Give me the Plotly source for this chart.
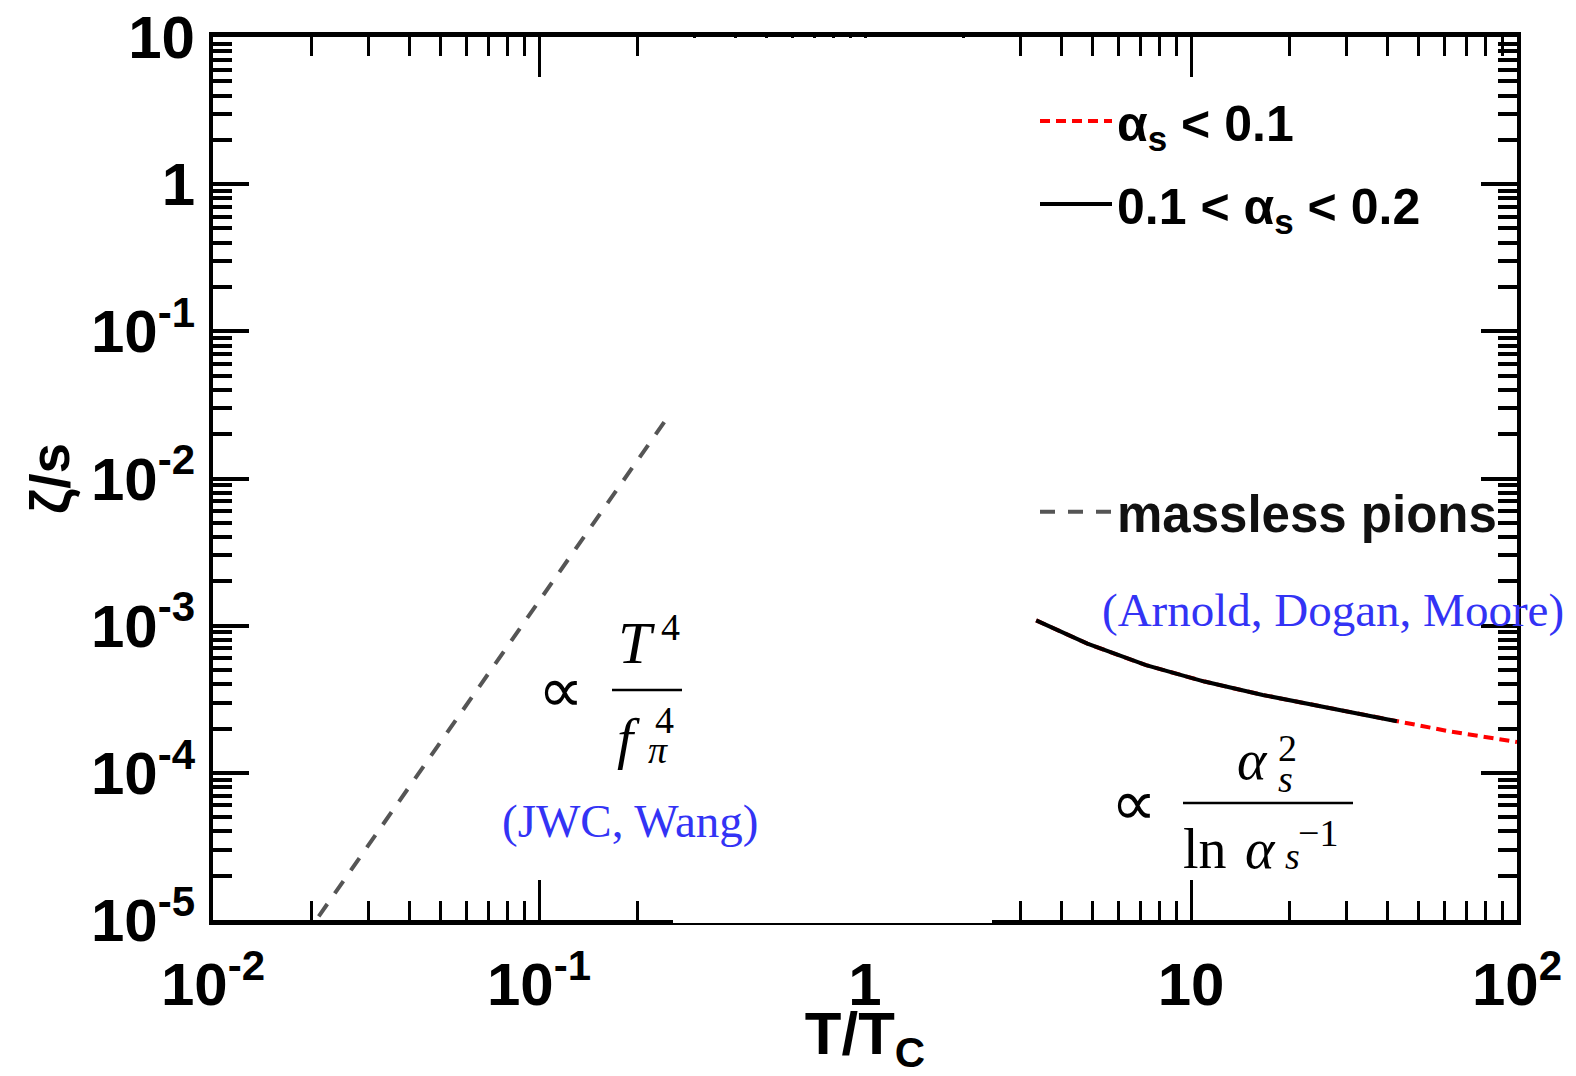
import plotly.graph_objects as go

# ---------------- data ----------------
T_black = [3.35, 4.81, 7.28, 11.0, 16.6, 26.5, 42.8]
zeta_black = [1.086e-3, 7.55e-4, 5.39e-4, 4.17e-4, 3.38e-4, 2.75e-4, 2.24e-4]

T_red = [3.35, 4.81, 7.28, 11.0, 16.6, 26.5, 42.8, 62.3, 100.0]
zeta_red = [1.086e-3, 7.55e-4, 5.39e-4, 4.17e-4, 3.38e-4, 2.75e-4, 2.24e-4, 1.91e-4, 1.62e-4]

T_pion = [0.0211, 0.2478]
zeta_pion = [1.06e-5, 2.60e-2]

x_tickvals = [0.01, 0.1, 1, 10, 100]
x_ticktext = ["10<sup>-2</sup>", "10<sup>-1</sup>", "1", "10", "10<sup>2</sup>"]
y_tickvals = [1e-5, 1e-4, 1e-3, 1e-2, 1e-1, 1, 10]
y_ticktext = ["10<sup>-5</sup>", "10<sup>-4</sup>", "10<sup>-3</sup>", "10<sup>-2</sup>",
              "10<sup>-1</sup>", "1", "10"]

legend_names = ["α<sub>s</sub> &lt; 0.1", "0.1 &lt; α<sub>s</sub> &lt; 0.2", "massless pions"]

# ---------------- layout geometry ----------------
W, H = 1576, 1076
L, R, TOP, BOT = 213, 1517, 37, 920


def px(x, y):
    return (x - L) / (R - L), (BOT - y) / (BOT - TOP)


SANS = "Liberation Sans, Arial, Helvetica, sans-serif"
SERIF = "Liberation Serif, Times New Roman, DejaVu Serif, serif"

fig = go.Figure()

fig.add_trace(go.Scatter(
    x=T_red, y=zeta_red, mode="lines", name=legend_names[0],
    line=dict(color="#ff0000", width=4, dash="10px,6px"),
    legend="legend", legendgroup="a"))
fig.add_trace(go.Scatter(
    x=T_black, y=zeta_black, mode="lines", name=legend_names[1],
    line=dict(color="#000000", width=4),
    legend="legend", legendgroup="b"))
fig.add_trace(go.Scatter(
    x=T_pion, y=zeta_pion, mode="lines", name=legend_names[2],
    line=dict(color="#555555", width=4, dash="15px,13px"),
    legend="legend2", legendgroup="c"))

axis_common = dict(
    type="log", showgrid=False, zeroline=False, automargin=False,
    showline=True, linecolor="black", mirror="ticks",
    ticks="inside", tickcolor="black",
    tickfont=dict(family=SANS, size=60, color="black", weight="bold"),
)

fig.update_xaxes(
    **axis_common, range=[-2, 2], linewidth=5, ticklen=40, tickwidth=3,
    tickvals=x_tickvals, ticktext=x_ticktext,
    minor=dict(ticks="inside", ticklen=19, tickwidth=3, tickcolor="black", dtick="D1"),
    title=dict(text="T/T<sub>C</sub>", font=dict(family=SANS, size=60, color="black", weight="bold"),
               standoff=5),
    ticklabelstandoff=8,
)
fig.update_yaxes(
    **axis_common, range=[-5, 1], linewidth=4, ticklen=36, tickwidth=3.5,
    tickvals=y_tickvals, ticktext=y_ticktext,
    minor=dict(ticks="inside", ticklen=19, tickwidth=3.5, tickcolor="black", dtick="D1"),
    title=dict(text="ζ/s", font=dict(family=SANS, size=55, color="black", weight="bold"),
               standoff=5),
    ticklabelstandoff=2,
)

lx, ly = px(1035, 82)
l2x, l2y = px(1035, 472)
legend_font = dict(family=SANS, size=50, color="black", weight="bold")
fig.update_layout(
    width=W, height=H,
    margin=dict(l=L, r=W - R, t=TOP, b=H - BOT, autoexpand=False),
    paper_bgcolor="white", plot_bgcolor="white",
    legend=dict(x=lx, y=ly, xanchor="left", yanchor="top", bgcolor="rgba(0,0,0,0)",
                font=legend_font, itemwidth=72, traceorder="grouped", tracegroupgap=15),
    legend2=dict(x=l2x, y=l2y, xanchor="left", yanchor="top", bgcolor="rgba(0,0,0,0)",
                 font=dict(family=SANS, size=51, color="#111111", weight="bold"), itemwidth=72),
)

annotations = []


def ann(text, x, y, size, family=SERIF, color="black", xanchor="center"):
    ax, ay = px(x, y)
    annotations.append(dict(text=text, x=ax, y=ay, xref="paper", yref="paper",
                            xanchor=xanchor, yanchor="middle", showarrow=False,
                            font=dict(family=family, size=size, color=color)))


BLUE = "#3333f5"
ann("(Arnold, Dogan, Moore)", 1100, 610, 47, color=BLUE, xanchor="left")
ann("(JWC, Wang)", 500, 821, 47, color=BLUE, xanchor="left")

MATHSYM = "DejaVu Sans, DejaVu Serif, serif"
# left formula: ∝ T^4 / f_pi^4
ann("∝", 561, 690, 64, family=MATHSYM)
ann("<i>T</i>", 636, 643, 60)
ann("4", 670, 627, 38)
ann("<i>f</i>", 628, 738, 58)
ann("4", 664, 720, 38)
ann("<i>π</i>", 658, 750, 38)

# right formula: ∝ alpha_s^2 / ln alpha_s^-1
ann("∝", 1134, 803, 64, family=MATHSYM)
ann("<i>α</i>", 1252, 760, 56)
ann("<i>s</i>", 1285, 779, 38)
ann("2", 1287, 748, 38)
ann("ln", 1205, 849, 56)
ann("<i>α</i>", 1260, 849, 56)
ann("<i>s</i>", 1292, 856, 38)
ann("−1", 1318, 833, 38)

fig.update_layout(annotations=annotations)

shapes = []
for (x0, x1, y) in [(612, 682, 690), (1183, 1353, 803)]:
    a0, b0 = px(x0, y)
    a1, _ = px(x1, y)
    shapes.append(dict(type="line", xref="paper", yref="paper", x0=a0, x1=a1, y0=b0, y1=b0,
                       line=dict(color="black", width=2.5), layer="above"))

# thin section of the bottom frame and stubby top ticks seen in the reference
bx0, by0 = px(673, 923)
bx1, by1 = px(992, 870)
shapes.append(dict(type="rect", xref="paper", yref="paper", x0=bx0, x1=bx1, y0=by0, y1=by1,
                   line=dict(width=0), fillcolor="white", layer="above"))
tx0, ty0 = px(665, 38)
tx1, ty1 = px(990, 90)
shapes.append(dict(type="rect", xref="paper", yref="paper", x0=tx0, x1=tx1, y0=ty0, y1=ty1,
                   line=dict(width=0), fillcolor="white", layer="above"))
fig.update_layout(shapes=shapes)

fig.write_html("out.html")
